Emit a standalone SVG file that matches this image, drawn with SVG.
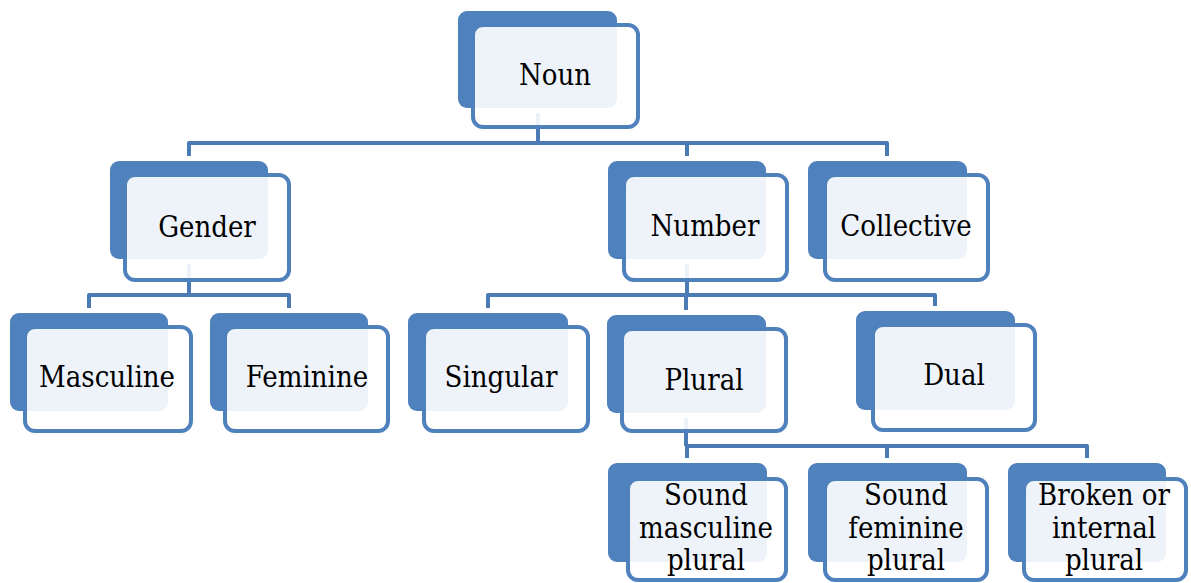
<svg xmlns="http://www.w3.org/2000/svg" width="1191" height="583" viewBox="0 0 1191 583">
  <style>
    .back { fill: #4F81BD; stroke: #FFFFFF; stroke-width: 10; paint-order: stroke; }
    .front { fill: #FFFFFF; fill-opacity: 0.9; stroke: #4F81BD; stroke-width: 4; }
    .conn { fill: none; stroke: #4A7BB7; stroke-width: 4; stroke-linejoin: round; }
    .lbl { font-family: "DejaVu Serif Condensed", "DejaVu Serif", "Liberation Serif", serif; font-stretch: condensed; font-size: 29px; fill: #000000; text-anchor: middle; }
    .sm { font-size: 29px; }
  </style>
  <rect width="1191" height="583" fill="#FFFFFF"/>

  <!-- connectors -->
  <g id="connectors">
    <path class="conn" d="M538,100 V143"/>
    <path class="conn" d="M189,156 V143 H887 V156"/>
    <path class="conn" d="M687,143 V156"/>

    <path class="conn" d="M189,250 V295"/>
    <path class="conn" d="M89,308 V295 H289 V308"/>

    <path class="conn" d="M687,250 V295"/>
    <path class="conn" d="M488,308 V295 H935 V306"/>
    <path class="conn" d="M686,295 V310"/>

    <path class="conn" d="M686,400 V446"/>
    <path class="conn" d="M687,458 V446 H1087 V458"/>
    <path class="conn" d="M887,446 V458"/>
  </g>

  <!-- nodes -->
  <g id="node-noun">
    <rect class="back" x="458" y="11" width="159" height="97" rx="9"/>
    <rect class="front" x="473" y="25" width="165" height="102" rx="10"/>
    <text class="lbl" x="555" y="85">Noun</text>
  </g>

  <g id="node-gender">
    <rect class="back" x="110" y="161" width="158" height="98" rx="9"/>
    <rect class="front" x="125" y="175" width="164" height="105" rx="10"/>
    <text class="lbl" x="207" y="237">Gender</text>
  </g>

  <g id="node-number">
    <rect class="back" x="608" y="161" width="158" height="98" rx="9"/>
    <rect class="front" x="624" y="175" width="163" height="105" rx="10"/>
    <text class="lbl" x="705" y="236">Number</text>
  </g>

  <g id="node-collective">
    <rect class="back" x="808" y="161" width="159" height="98" rx="9"/>
    <rect class="front" x="825" y="175" width="163" height="105" rx="10"/>
    <text class="lbl" x="906" y="236">Collective</text>
  </g>

  <g id="node-masculine">
    <rect class="back" x="10" y="313" width="158" height="98" rx="9"/>
    <rect class="front" x="25" y="327" width="166" height="104" rx="10"/>
    <text class="lbl" x="107" y="387">Masculine</text>
  </g>

  <g id="node-feminine">
    <rect class="back" x="210" y="313" width="158" height="98" rx="9"/>
    <rect class="front" x="225" y="327" width="163" height="104" rx="10"/>
    <text class="lbl" x="307" y="387">Feminine</text>
  </g>

  <g id="node-singular">
    <rect class="back" x="408" y="313" width="160" height="98" rx="9"/>
    <rect class="front" x="424" y="327" width="164" height="104" rx="10"/>
    <text class="lbl" x="501" y="387">Singular</text>
  </g>

  <g id="node-plural">
    <rect class="back" x="607" y="315" width="159" height="98" rx="9"/>
    <rect class="front" x="622" y="329" width="164" height="102" rx="10"/>
    <text class="lbl" x="704" y="390">Plural</text>
  </g>

  <g id="node-dual">
    <rect class="back" x="856" y="311" width="159" height="99" rx="9"/>
    <rect class="front" x="873" y="325" width="162" height="105" rx="10"/>
    <text class="lbl" x="954" y="385">Dual</text>
  </g>

  <g id="node-sound-masculine">
    <rect class="back" x="608" y="463" width="159" height="99" rx="9"/>
    <rect class="front" x="628" y="479" width="158" height="101" rx="10"/>
    <text class="lbl sm" x="706" y="505">Sound</text>
    <text class="lbl sm" x="706" y="538">masculine</text>
    <text class="lbl sm" x="706" y="570">plural</text>
  </g>

  <g id="node-sound-feminine">
    <rect class="back" x="808" y="463" width="159" height="99" rx="9"/>
    <rect class="front" x="825" y="479" width="162" height="101" rx="10"/>
    <text class="lbl sm" x="906" y="505">Sound</text>
    <text class="lbl sm" x="906" y="538">feminine</text>
    <text class="lbl sm" x="906" y="570">plural</text>
  </g>

  <g id="node-broken-plural">
    <rect class="back" x="1008" y="463" width="158" height="99" rx="9"/>
    <rect class="front" x="1024" y="479" width="162" height="101" rx="10"/>
    <text class="lbl sm" x="1104" y="505">Broken or</text>
    <text class="lbl sm" x="1104" y="538">internal</text>
    <text class="lbl sm" x="1104" y="570">plural</text>
  </g>
</svg>
